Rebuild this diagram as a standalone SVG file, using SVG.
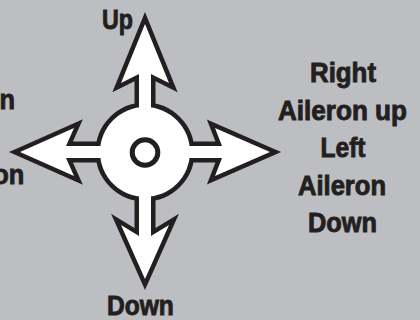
<svg xmlns="http://www.w3.org/2000/svg" width="420" height="320" viewBox="0 0 420 320">
  <style>
    .lbl { font-family: "Liberation Sans", Arial, sans-serif; font-weight: bold; font-size: 28px; fill: #231f20; stroke: #231f20; stroke-width: 0.9; text-anchor: middle; }
    .end { text-anchor: end; }
    .outline { fill: #231f20; stroke: #231f20; stroke-width: 9; stroke-linejoin: miter; stroke-miterlimit: 6; }
    .fillw { fill: #ffffff; stroke: none; }
  </style>
  <defs>
    <path id="arrowUp" d="M145,24 L169,83 L151,74 L151,120 L139,120 L139,74 L121,83 Z"/>
    <path id="arrowDown" d="M145,279 L121,225 L139,236 L139,185 L151,185 L151,236 L169,225 Z"/>
    <path id="arrowLeft" d="M20,152 L74,128 L66,146 L115,146 L115,158 L66,158 L74,176 Z"/>
    <path id="arrowRight" d="M270,152 L215,128 L222,146 L175,146 L175,158 L222,158 L215,176 Z"/>
    <circle id="hub" cx="145" cy="152" r="45"/>
  </defs>
  <rect x="0" y="0" width="420" height="320" fill="#bdbec2"/>
  <g id="stick-symbol">
    <g class="outline">
      <use href="#arrowUp"/>
      <use href="#arrowDown"/>
      <use href="#arrowLeft"/>
      <use href="#arrowRight"/>
      <use href="#hub"/>
    </g>
    <g class="fillw">
      <use href="#arrowUp"/>
      <use href="#arrowDown"/>
      <use href="#arrowLeft"/>
      <use href="#arrowRight"/>
      <use href="#hub"/>
    </g>
    <circle id="center-ring" cx="145" cy="152.5" r="12.8" fill="none" stroke="#231f20" stroke-width="5"/>
  </g>
  <g id="labels">
    <text class="lbl" x="117.5" y="29" textLength="31" lengthAdjust="spacingAndGlyphs">Up</text>
    <text class="lbl" x="140.4" y="315" textLength="67" lengthAdjust="spacingAndGlyphs">Down</text>
    <text class="lbl" x="343" y="82" textLength="66" lengthAdjust="spacingAndGlyphs">Right</text>
    <text class="lbl" x="342.5" y="120" textLength="129" lengthAdjust="spacingAndGlyphs">Aileron up</text>
    <text class="lbl" x="343" y="157" textLength="45" lengthAdjust="spacingAndGlyphs">Left</text>
    <text class="lbl" x="342" y="195" textLength="88" lengthAdjust="spacingAndGlyphs">Aileron</text>
    <text class="lbl" x="342.5" y="232" textLength="69" lengthAdjust="spacingAndGlyphs">Down</text>
    <text class="lbl end" x="15" y="109" textLength="15.5" lengthAdjust="spacingAndGlyphs">n</text>
    <text class="lbl end" x="24.3" y="184" textLength="31" lengthAdjust="spacingAndGlyphs">on</text>
  </g>
</svg>
